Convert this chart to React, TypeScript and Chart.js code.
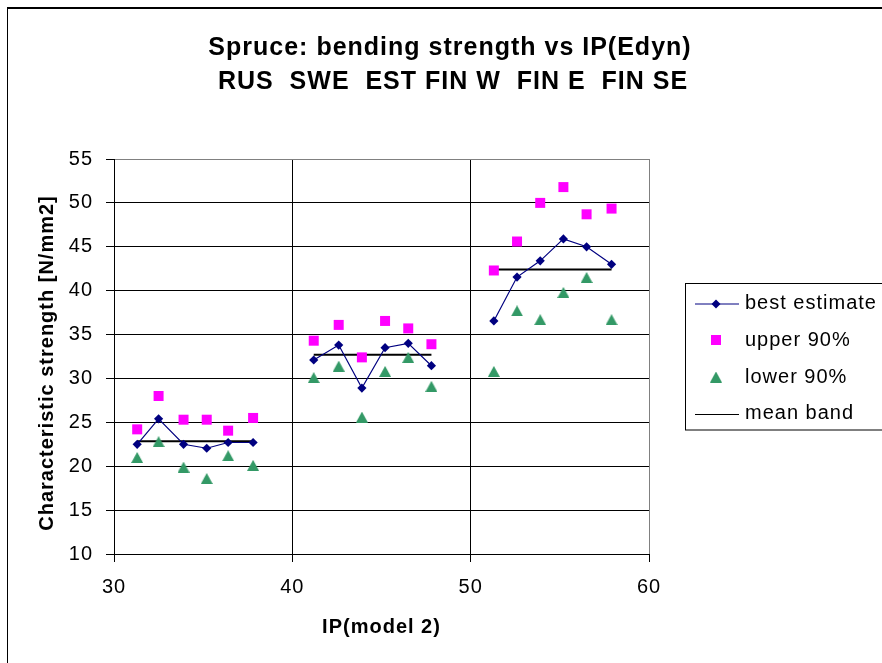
import React, { useEffect, useRef } from 'react';
import { Chart, registerables } from 'chart.js';

Chart.register(...registerables);

// ---- text ----
const titleLines = ['Spruce: bending strength vs IP(Edyn)', 'RUS  SWE  EST FIN W  FIN E  FIN SE'];
const xAxisTitle = 'IP(model 2)';
const yAxisTitle = 'Characteristic strength [N/mm2]';
const legendLabels = ['best estimate', 'upper 90%', 'lower 90%', 'mean band'];

// ---- ticks ----
const xTicks = [30, 40, 50, 60];
const yTicks = [10, 15, 20, 25, 30, 35, 40, 45, 50, 55];

// ---- x positions (IP, model 2) of the six regions in each class ----
const ipClass1 = [31.3, 32.5, 33.9, 35.2, 36.4, 37.8];
const ipClass2 = [41.2, 42.6, 43.9, 45.2, 46.5, 47.8];
const ipClass3 = [51.3, 52.6, 53.9, 55.2, 56.5, 57.9];

// ---- best estimate ----
const best1 = [22.5, 25.4, 22.5, 22.05, 22.7, 22.7];
const best2 = [32.1, 33.8, 28.9, 33.5, 34.0, 31.45];
const best3 = [36.55, 41.55, 43.4, 45.9, 45.0, 43.0];

// ---- upper 90% ----
const upper1 = [24.2, 28.0, 25.3, 25.3, 24.05, 25.5];
const upper2 = [34.3, 36.1, 32.4, 36.55, 35.7, 33.9];
const upper3 = [42.3, 45.6, 50.0, 51.8, 48.7, 49.35];

// ---- lower 90% ----
const lower1 = [21.0, 22.8, 19.9, 18.6, 21.2, 20.1];
const lower2 = [30.1, 31.4, 25.6, 30.8, 32.4, 29.1];
const lower3 = [30.8, 37.7, 36.7, 39.8, 41.5, 36.7];

// ---- mean band per class ----
const meanBand = [22.85, 32.7, 42.4];

const NAVY = '#000080';
const MAGENTA = '#FF00FF';
const GREEN = '#339966';
const FONT = '"Liberation Sans", Arial, Helvetica, sans-serif';

const pts = (xs: number[], ys: number[]) => xs.map((x, i) => ({ x, y: ys[i] }));

function makeTriangle(w: number, h: number, color: string) {
  const c = document.createElement('canvas');
  c.width = w;
  c.height = h;
  const g = c.getContext('2d')!;
  g.fillStyle = color;
  g.beginPath();
  g.moveTo(w / 2, 0);
  g.lineTo(w, h);
  g.lineTo(0, h);
  g.closePath();
  g.fill();
  return c;
}

export default function App() {
  const ref = useRef<HTMLCanvasElement>(null);

  useEffect(() => {
    const canvas = ref.current!;
    const tri = makeTriangle(12, 11, GREEN);

    const bestDs = (xs: number[], ys: number[]) => ({
      label: legendLabels[0],
      data: pts(xs, ys),
      showLine: true,
      borderColor: NAVY,
      borderWidth: 1.2,
      pointStyle: 'rectRot',
      pointRadius: 4.6,
      pointBackgroundColor: NAVY,
      pointBorderWidth: 0,
      pointBorderColor: NAVY,
    });
    const bandDs = (xs: number[], v: number) => ({
      label: legendLabels[3],
      data: [
        { x: xs[0], y: v },
        { x: xs[xs.length - 1], y: v },
      ],
      showLine: true,
      borderColor: '#000',
      borderWidth: 2,
      pointRadius: 0,
    });

    const decor = {
      id: 'decor',
      beforeDraw(chart: any) {
        chart.ctx.letterSpacing = '1px';
      },
      afterDraw(chart: any) {
        const ctx = chart.ctx as CanvasRenderingContext2D;
        ctx.save();
        (ctx as any).letterSpacing = '1px';
        // outer frame
        ctx.fillStyle = '#000';
        ctx.fillRect(7, 7, 1, 700);
        ctx.fillRect(7, 7, 900, 2);
        // title
        ctx.fillStyle = '#000';
        ctx.textAlign = 'center';
        ctx.textBaseline = 'alphabetic';
        ctx.font = `bold 25px ${FONT}`;
        ctx.fillText(titleLines[0], 450, 54.5);
        ctx.fillText(titleLines[1], 453, 89);
        // y axis title
        ctx.save();
        ctx.translate(47, 363);
        ctx.rotate(-Math.PI / 2);
        ctx.textBaseline = 'middle';
        ctx.font = `bold 20px ${FONT}`;
        ctx.fillText(yAxisTitle, 0, 0);
        ctx.restore();
        // legend box
        ctx.strokeStyle = '#000';
        ctx.lineWidth = 1;
        ctx.strokeRect(685.5, 283.5, 300, 146.5);
        const rows = [304, 340, 377, 414];
        const x0 = 695, x1 = 739, xm = 716;
        // best estimate
        ctx.strokeStyle = NAVY;
        ctx.lineWidth = 1;
        ctx.beginPath();
        ctx.moveTo(x0, rows[0]);
        ctx.lineTo(x1, rows[0]);
        ctx.stroke();
        ctx.fillStyle = NAVY;
        ctx.beginPath();
        ctx.moveTo(xm, rows[0] - 4.5);
        ctx.lineTo(xm + 4.5, rows[0]);
        ctx.lineTo(xm, rows[0] + 4.5);
        ctx.lineTo(xm - 4.5, rows[0]);
        ctx.closePath();
        ctx.fill();
        // upper
        ctx.fillStyle = MAGENTA;
        ctx.fillRect(xm - 5, rows[1] - 5, 10, 10);
        // lower
        ctx.drawImage(tri, xm - 6, rows[2] - 5.5);
        // mean band
        ctx.strokeStyle = '#000';
        ctx.beginPath();
        ctx.moveTo(x0, rows[3] + 0.5);
        ctx.lineTo(x1, rows[3] + 0.5);
        ctx.stroke();
        // legend text
        ctx.fillStyle = '#000';
        ctx.textAlign = 'left';
        ctx.font = `20px ${FONT}`;
        const bases = [308.5, 345.5, 382.5, 418.5];
        legendLabels.forEach((t, i) => ctx.fillText(t, 745, bases[i]));
        ctx.restore();
      },
    };

    const chart = new Chart(canvas, {
      type: 'scatter',
      data: {
        datasets: [
          bestDs(ipClass1, best1),
          bestDs(ipClass2, best2),
          bestDs(ipClass3, best3),
          {
            label: legendLabels[1],
            data: [...pts(ipClass1, upper1), ...pts(ipClass2, upper2), ...pts(ipClass3, upper3)],
            pointStyle: 'rect',
            pointRadius: 7.07,
            pointBackgroundColor: MAGENTA,
            pointBorderWidth: 0,
            pointBorderColor: MAGENTA,
          },
          {
            label: legendLabels[2],
            data: [...pts(ipClass1, lower1), ...pts(ipClass2, lower2), ...pts(ipClass3, lower3)],
            pointStyle: tri,
            pointRadius: 6,
            pointBorderWidth: 0,
          },
          bandDs(ipClass1, meanBand[0]),
          bandDs(ipClass2, meanBand[1]),
          bandDs(ipClass3, meanBand[2]),
        ] as any,
      },
      options: {
        animation: false,
        responsive: false,
        devicePixelRatio: 1,
        events: [],
        layout: { padding: { left: 0, top: 159, right: 233, bottom: 0 } },
        plugins: {
          legend: { display: false },
          tooltip: { enabled: false },
          title: { display: false },
        },
        scales: {
          x: {
            type: 'linear',
            min: 30,
            max: 60,
            afterBuildTicks: (s: any) => {
              s.ticks = xTicks.map((v) => ({ value: v }));
            },
            afterFit: (s: any) => {
              s.height = 109;
            },
            grid: {
              color: (c: any) => (c.tick && c.tick.value === 60 ? '#808080' : '#000'),
              tickColor: '#000',
              tickLength: 8,
              lineWidth: 1,
            },
            border: { display: true, color: '#000', width: 1 },
            ticks: {
              color: '#000',
              font: { family: FONT, size: 20 },
              padding: 13,
              maxRotation: 0,
              autoSkip: false,
            },
            title: {
              display: true,
              text: xAxisTitle,
              color: '#000',
              font: { family: FONT, size: 20, weight: 'bold', lineHeight: 1.2 },
              padding: { top: 0, bottom: 24 },
            },
          },
          y: {
            type: 'linear',
            min: 10,
            max: 55,
            afterBuildTicks: (s: any) => {
              s.ticks = yTicks.map((v) => ({ value: v }));
            },
            afterFit: (s: any) => {
              s.width = 114;
            },
            grid: {
              color: (c: any) => (c.tick && c.tick.value === 55 ? '#808080' : '#000'),
              tickColor: '#000',
              tickLength: 8,
              lineWidth: 1,
            },
            border: { display: true, color: '#000', width: 1 },
            ticks: {
              color: '#000',
              font: { family: FONT, size: 20 },
              padding: 13,
              autoSkip: false,
            },
            title: { display: false },
          },
        },
      } as any,
      plugins: [decor],
    });

    return () => chart.destroy();
  }, []);

  return (
    <div style={{ position: 'absolute', left: 0, top: 0, width: 882, height: 663, overflow: 'hidden', background: '#fff' }}>
      <canvas ref={ref} width={882} height={663} style={{ display: 'block' }} />
    </div>
  );
}
